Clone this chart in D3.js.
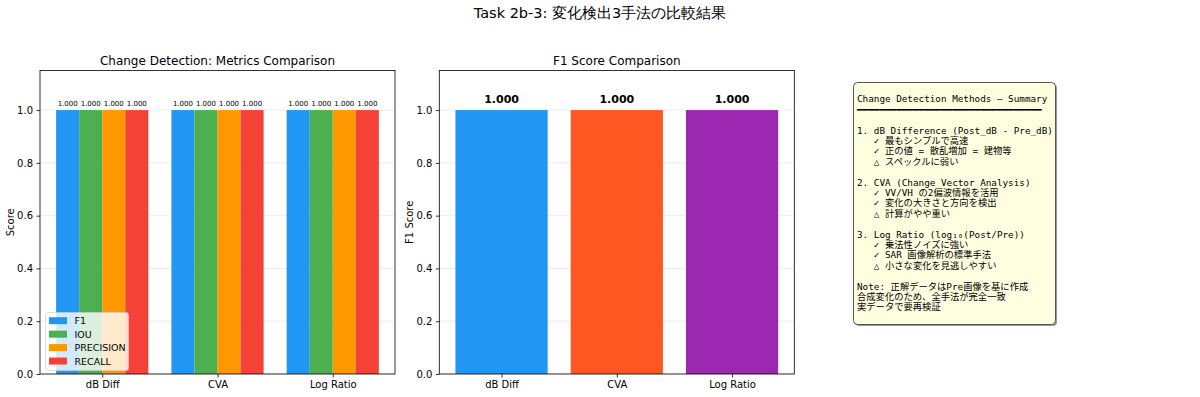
<!DOCTYPE html>
<html>
<head>
<meta charset="utf-8">
<script src="https://cdn.jsdelivr.net/npm/d3@7"></script>
<style>
body { margin: 0; background: #fff; }
svg { font-family: "DejaVu Sans", sans-serif; }
</style>
</head>
<body>
<div class="container"></div>
<script>
// data
const methods = ["dB Diff", "CVA", "Log Ratio"];
const metrics = ["F1", "IOU", "PRECISION", "RECALL"];
const f1Values = [1.0, 1.0, 1.0];
const iouValues = [1.0, 1.0, 1.0];
const precisionValues = [1.0, 1.0, 1.0];
const recallValues = [1.0, 1.0, 1.0];
const metricColors = ["#2196F3", "#4CAF50", "#FF9800", "#F44336"];
const methodColors = ["#2196F3", "#FF5722", "#9C27B0"];
const yTicks = [0.0, 0.2, 0.4, 0.6, 0.8, 1.0];
const summaryLines = [
    "Change Detection Methods — Summary",
    "━".repeat(33),
    "",
    "1. dB Difference (Post_dB - Pre_dB)",
    "   ✓ 最もシンプルで高速",
    "   ✓ 正の値 = 散乱増加 = 建物等",
    "   △ スペックルに弱い",
    "",
    "2. CVA (Change Vector Analysis)",
    "   ✓ VV/VH の2偏波情報を活用",
    "   ✓ 変化の大きさと方向を検出",
    "   △ 計算がやや重い",
    "",
    "3. Log Ratio (log₁₀(Post/Pre))",
    "   ✓ 乗法性ノイズに強い",
    "   ✓ SAR 画像解析の標準手法",
    "   △ 小さな変化を見逃しやすい",
    "",
    "Note: 正解データはPre画像を基に作成",
    "合成変化のため、全手法が完全一致",
    "実データで要再検証"
];

const metricValues = [f1Values, iouValues, precisionValues, recallValues];

const width = 1200, height = 397;
const svg = d3.select(".container")
              .append("svg")
              .attr("width", width)
              .attr("height", height);

svg.append("text")
   .attr("x", 600)
   .attr("y", 17.5)
   .attr("text-anchor", "middle")
   .attr("font-size", 14.5)
   .text("Task 2b-3: 変化検出3手法の比較結果");

const plotTop = 70.5, plotBottom = 374;

function drawAxes(x0, x1, title, ylabel) {
    const g = svg.append("g");
    const x = d3.scaleLinear().domain([-0.54, 2.54]).range([x0, x1]);
    const y = d3.scaleLinear().domain([0, 1.15]).range([plotBottom, plotTop]);
    // grid
    g.selectAll("line.grid")
     .data(yTicks)
     .join("line")
     .attr("class", "grid")
     .attr("x1", x0).attr("x2", x1)
     .attr("y1", d => y(d)).attr("y2", d => y(d))
     .attr("stroke", "#b0b0b0")
     .attr("stroke-opacity", 0.3)
     .attr("stroke-width", 0.8);
    const barLayer = g.append("g");
    const yAxis = g.append("g")
                   .attr("transform", `translate(${x0},0)`)
                   .call(d3.axisLeft(y).tickValues(yTicks).tickFormat(d3.format(".1f")).tickSize(3.5).tickPadding(3.5));
    const xAxis = g.append("g")
                   .attr("transform", `translate(0,${plotBottom})`)
                   .call(d3.axisBottom(x).tickValues([0, 1, 2]).tickFormat(i => methods[i]).tickSize(3.5).tickPadding(3.5));
    [yAxis, xAxis].forEach(a => {
        a.select(".domain").remove();
        a.selectAll("text").attr("font-size", 10).attr("fill", "#000").attr("font-family", "DejaVu Sans, sans-serif");
        a.selectAll("line").attr("stroke", "#000").attr("stroke-width", 0.8);
    });
    g.append("rect")
     .attr("x", x0).attr("y", plotTop)
     .attr("width", x1 - x0).attr("height", plotBottom - plotTop)
     .attr("fill", "none")
     .attr("stroke", "#000")
     .attr("stroke-width", 0.8);
    g.append("text")
     .attr("x", (x0 + x1) / 2)
     .attr("y", 65)
     .attr("text-anchor", "middle")
     .attr("font-size", 12)
     .text(title);
    g.append("text")
     .attr("transform", `translate(${x0 - 26},${(plotTop + plotBottom) / 2}) rotate(-90)`)
     .attr("text-anchor", "middle")
     .attr("font-size", 10)
     .text(ylabel);
    return {g, barLayer, x, y};
}

// left: metrics comparison
const leftAx = drawAxes(40, 395, "Change Detection: Metrics Comparison", "Score");
const barW = 0.2;
metrics.forEach((m, k) => {
    const vals = metricValues[k];
    const off = (k - 1.5) * barW;
    leftAx.barLayer.selectAll(`rect.m${k}`)
          .data(vals)
          .join("rect")
          .attr("class", `m${k}`)
          .attr("x", (d, i) => leftAx.x(i + off - barW / 2))
          .attr("width", leftAx.x(barW) - leftAx.x(0))
          .attr("y", d => leftAx.y(d))
          .attr("height", d => leftAx.y(0) - leftAx.y(d))
          .attr("fill", metricColors[k]);
    leftAx.g.selectAll(`text.v${k}`)
          .data(vals)
          .join("text")
          .attr("class", `v${k}`)
          .attr("x", (d, i) => leftAx.x(i + off))
          .attr("y", d => leftAx.y(d) - 4.5)
          .attr("text-anchor", "middle")
          .attr("font-size", 7)
          .text(d => d3.format(".3f")(d));
});

// legend
const legend = leftAx.g.append("g");
legend.append("rect")
      .attr("x", 45.5).attr("y", 312.5)
      .attr("width", 83).attr("height", 58)
      .attr("rx", 2.5)
      .attr("fill", "#fff").attr("fill-opacity", 0.8)
      .attr("stroke", "#ccc").attr("stroke-opacity", 0.8)
      .attr("stroke-width", 0.8);
const rows = legend.selectAll("g.row")
                   .data(metrics)
                   .join("g")
                   .attr("class", "row")
                   .attr("transform", (d, i) => `translate(49,${320.7 + i * 13.45})`);
rows.append("rect")
    .attr("x", 0).attr("y", -3.5)
    .attr("width", 18).attr("height", 7)
    .attr("fill", (d, i) => metricColors[i]);
rows.append("text")
    .attr("x", 25.5).attr("y", 3.5)
    .attr("font-size", 9.5)
    .text(d => d);

// middle: F1 comparison
const midAx = drawAxes(439.3, 794.3, "F1 Score Comparison", "F1 Score");
midAx.barLayer.selectAll("rect")
     .data(f1Values)
     .join("rect")
     .attr("x", (d, i) => midAx.x(i - 0.4))
     .attr("width", midAx.x(0.8) - midAx.x(0))
     .attr("y", d => midAx.y(d))
     .attr("height", d => midAx.y(0) - midAx.y(d))
     .attr("fill", (d, i) => methodColors[i]);
midAx.g.selectAll("text.val")
     .data(f1Values)
     .join("text")
     .attr("class", "val")
     .attr("x", (d, i) => midAx.x(i))
     .attr("y", d => midAx.y(d) - 7)
     .attr("text-anchor", "middle")
     .attr("font-size", 11)
     .attr("font-weight", "bold")
     .text(d => d3.format(".3f")(d));

// summary text box
const box = svg.append("g");
box.append("rect")
   .attr("x", 855).attr("y", 84)
   .attr("width", 202).attr("height", 242)
   .attr("rx", 4)
   .attr("fill", "#999");
box.append("rect")
   .attr("x", 853.5).attr("y", 82.5)
   .attr("width", 202).attr("height", 242)
   .attr("rx", 4)
   .attr("fill", "#ffffe0")
   .attr("stroke", "#555")
   .attr("stroke-width", 1);
box.selectAll("text")
   .data(summaryLines)
   .join("text")
   .attr("x", 857)
   .attr("y", (d, i) => 102.3 + i * 10.4)
   .attr("font-family", "DejaVu Sans Mono, Noto Sans CJK JP, monospace")
   .attr("font-size", 9.3)
   .style("white-space", "pre")
   .text(d => d);
</script>
</body>
</html>
